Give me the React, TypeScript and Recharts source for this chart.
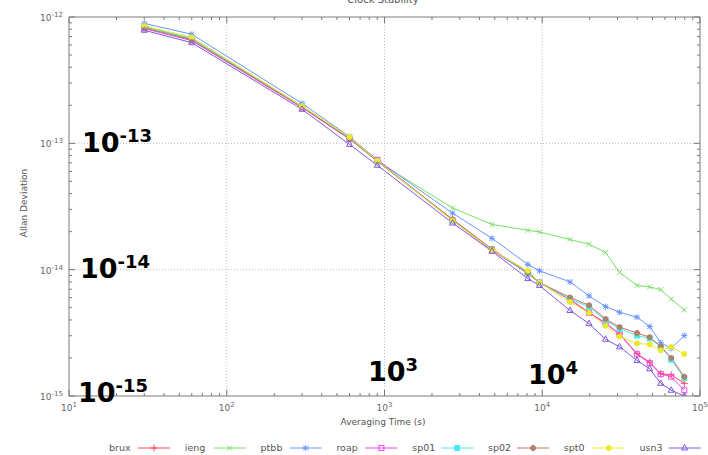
import { LineChart, Line, XAxis, YAxis, ReferenceLine } from 'recharts';

// averaging times (s)
const taus = [30, 60, 300, 600, 900, 2700, 4800, 8100, 9600, 15000, 19800, 25200, 30900, 39900, 48000, 56400, 65700, 79500];

const brux = [8.3e-13, 6.7e-13, 1.95e-13, 1.1e-13, 7.3e-14, 2.5e-14, 1.44e-14, 9.3e-15, 7.9e-15, 5.8e-15, 4.6e-15, 3.78e-15, 3.1e-15, 2.16e-15, 1.85e-15, 1.5e-15, 1.47e-15, 1.26e-15];
const ieng = [8.4e-13, 6.8e-13, 1.97e-13, 1.11e-13, 7.2e-14, 3.08e-14, 2.28e-14, 2.05e-14, 1.99e-14, 1.73e-14, 1.59e-14, 1.37e-14, 9.5e-15, 7.5e-15, 7.3e-15, 6.95e-15, 5.85e-15, 4.8e-15];
const ptbb = [8.9e-13, 7.3e-13, 2.07e-13, 1.13e-13, 7.4e-14, 2.8e-14, 1.77e-14, 1.1e-14, 9.8e-15, 8.0e-15, 6.2e-15, 5.1e-15, 4.6e-15, 4.2e-15, 3.55e-15, 2.64e-15, 2.38e-15, 3.01e-15];
const roap = [8.1e-13, 6.5e-13, 1.92e-13, 1.08e-13, 7.4e-14, 2.45e-14, 1.42e-14, 9.4e-15, 7.9e-15, 5.8e-15, 4.55e-15, 3.75e-15, 3.08e-15, 2.14e-15, 1.82e-15, 1.49e-15, 1.42e-15, 1.11e-15];
const sp01 = [8.3e-13, 6.7e-13, 1.95e-13, 1.1e-13, 7.2e-14, 2.45e-14, 1.45e-14, 9.3e-15, 7.9e-15, 5.85e-15, 5.09e-15, 3.98e-15, 3.41e-15, 3.01e-15, 2.86e-15, 2.46e-15, 1.94e-15, 1.39e-15];
const sp02 = [8.2e-13, 6.6e-13, 1.94e-13, 1.09e-13, 7.2e-14, 2.5e-14, 1.46e-14, 9.5e-15, 7.9e-15, 6.03e-15, 5.22e-15, 4.07e-15, 3.51e-15, 3.15e-15, 2.92e-15, 2.48e-15, 2.0e-15, 1.42e-15];
const spt0 = [8.5e-13, 6.9e-13, 1.97e-13, 1.12e-13, 7.3e-14, 2.45e-14, 1.43e-14, 9.8e-15, 7.9e-15, 5.55e-15, 4.55e-15, 3.6e-15, 2.95e-15, 2.61e-15, 2.56e-15, 2.3e-15, 2.45e-15, 2.15e-15];
const usn3 = [7.85e-13, 6.26e-13, 1.86e-13, 9.8e-14, 6.7e-14, 2.34e-14, 1.4e-14, 8.5e-15, 7.5e-15, 4.75e-15, 3.74e-15, 2.81e-15, 2.45e-15, 1.91e-15, 1.64e-15, 1.26e-15, 1.11e-15, 1.0e-15];

const seriesNames = ['brux', 'ieng', 'ptbb', 'roap', 'sp01', 'sp02', 'spt0', 'usn3'];
const seriesValues = [brux, ieng, ptbb, roap, sp01, sp02, spt0, usn3];
const seriesColors = ['#ff4656', '#78de66', '#6a95ff', '#ee48ee', '#4aeaee', '#c87258', '#eaea2a', '#8058e0'];
const seriesMarkers = ['plus', 'cross', 'star', 'square', 'squareFilled', 'circle', 'circleFilled', 'triangle'];

const xDecades = [10, 100, 1000, 10000, 100000];
const xDecadeLabels = ['1', '2', '3', '4', '5'];
const yDecades = [1e-15, 1e-14, 1e-13, 1e-12];
const yDecadeLabels = ['-15', '-14', '-13', '-12'];
const minorSteps = [2, 3, 4, 5, 6, 7, 8, 9];

const withMinor = (decades: number[]) =>
  decades.flatMap((d, i) => (i < decades.length - 1 ? [d, ...minorSteps.map((m) => m * d)] : [d]));
const xTicks = withMinor(xDecades);
const yTicks = withMinor(yDecades);

const data = taus.map((t, i) => {
  const row: any = { tau: t };
  seriesNames.forEach((n, k) => (row[n] = seriesValues[k][i]));
  return row;
});

const FONT = '"DejaVu Sans", sans-serif';
const AXIS = '#7a7a7a';
const GRID = '#bdbdbd';

const decadeIndex = (list: number[], v: number) =>
  list.findIndex((d) => Math.abs(Math.log10(d) - Math.log10(v)) < 1e-6);

const Marker = ({ shape, x, y, color }: { shape: string; x: number; y: number; color: string }) => {
  const s = 2.5;
  switch (shape) {
    case 'plus':
      return <path d={`M${x - s - 1},${y}H${x + s + 1}M${x},${y - s - 1}V${y + s + 1}`} stroke={color} strokeWidth={1} />;
    case 'cross':
      return <path d={`M${x - s},${y - s}L${x + s},${y + s}M${x - s},${y + s}L${x + s},${y - s}`} stroke={color} strokeWidth={1} />;
    case 'star':
      return <path d={`M${x - s},${y - s}L${x + s},${y + s}M${x - s},${y + s}L${x + s},${y - s}M${x - s - 0.5},${y}H${x + s + 0.5}M${x},${y - s - 0.5}V${y + s + 0.5}`} stroke={color} strokeWidth={1} />;
    case 'square':
      return <rect x={x - s} y={y - s} width={2 * s} height={2 * s} fill="none" stroke={color} strokeWidth={1} />;
    case 'squareFilled':
      return <rect x={x - s} y={y - s} width={2 * s} height={2 * s} fill={color} stroke={color} strokeWidth={1} />;
    case 'circle':
      return <circle cx={x} cy={y} r={s} fill="#9a8a7a" stroke={color} strokeWidth={1} />;
    case 'circleFilled':
      return <circle cx={x} cy={y} r={s} fill={color} stroke={color} strokeWidth={1} />;
    default:
      return <path d={`M${x},${y - s - 1}L${x + s + 0.5},${y + s - 0.5}L${x - s - 0.5},${y + s - 0.5}Z`} fill="none" stroke={color} strokeWidth={1} />;
  }
};

const XTick = (p: any) => {
  const { x, y, payload, side } = p;
  const i = decadeIndex(xDecades, payload.value);
  const len = i >= 0 ? 6 : 3;
  const dir = side === 'bottom' ? -1 : 1;
  return (
    <g>
      <line x1={x} y1={y} x2={x} y2={y + dir * len} stroke={AXIS} strokeWidth={1} />
      {side === 'bottom' && i >= 0 && (
        <text x={x} y={y + 15} textAnchor="middle" fontSize={9} fill="#666" fontFamily={FONT}>
          <tspan>10</tspan>
          <tspan dy={-4} fontSize={7}>{xDecadeLabels[i]}</tspan>
        </text>
      )}
    </g>
  );
};

const YTick = (p: any) => {
  const { x, y, payload, side } = p;
  const i = decadeIndex(yDecades, payload.value);
  const len = i >= 0 ? 6 : 3;
  const dir = side === 'left' ? 1 : -1;
  return (
    <g>
      <line x1={x} y1={y} x2={x + dir * len} y2={y} stroke={AXIS} strokeWidth={1} />
      {side === 'left' && i >= 0 && (
        <text x={x - 6} y={y + 4} textAnchor="end" fontSize={9} fill="#666" fontFamily={FONT}>
          <tspan>10</tspan>
          <tspan dy={-4} fontSize={7}>{yDecadeLabels[i]}</tspan>
        </text>
      )}
    </g>
  );
};

const bigLabels = [
  { x: 82, y: 152, exp: '-13' },
  { x: 80, y: 278, exp: '-14' },
  { x: 78, y: 402, exp: '-15' },
  { x: 368, y: 381, exp: '3' },
  { x: 528, y: 384, exp: '4' },
];

export default function App() {
  return (
    <div style={{ position: 'absolute', left: 0, top: 0, width: 708, height: 455, background: '#fff' }}>
      <LineChart width={708} height={455} data={data} margin={{ top: 16, right: 7, left: 9, bottom: 29 }}>
        <XAxis
          dataKey="tau"
          type="number"
          scale="log"
          domain={[10, 100000]}
          allowDataOverflow
          ticks={xTicks}
          interval={0}
          height={30}
          tickSize={0}
          tickMargin={0}
          axisLine={{ stroke: AXIS }}
          tickLine={false}
          tick={(p: any) => <XTick {...p} side="bottom" />}
        />
        <XAxis
          xAxisId="top"
          orientation="top"
          dataKey="tau"
          type="number"
          scale="log"
          domain={[10, 100000]}
          allowDataOverflow
          ticks={xTicks}
          interval={0}
          height={1}
          tickSize={0}
          tickMargin={0}
          axisLine={{ stroke: AXIS }}
          tickLine={false}
          tick={(p: any) => <XTick {...p} side="top" />}
        />
        <YAxis
          type="number"
          scale="log"
          domain={[1e-15, 1e-12]}
          allowDataOverflow
          ticks={yTicks}
          interval={0}
          width={60}
          tickSize={0}
          tickMargin={0}
          axisLine={{ stroke: AXIS }}
          tickLine={false}
          tick={(p: any) => <YTick {...p} side="left" />}
        />
        <YAxis
          yAxisId="right"
          orientation="right"
          type="number"
          scale="log"
          domain={[1e-15, 1e-12]}
          allowDataOverflow
          ticks={yTicks}
          interval={0}
          width={1}
          tickSize={0}
          tickMargin={0}
          axisLine={{ stroke: AXIS }}
          tickLine={false}
          tick={(p: any) => <YTick {...p} side="right" />}
        />
        {xDecades.slice(1, -1).map((v) => (
          <ReferenceLine key={`gx${v}`} x={v} stroke={GRID} strokeDasharray="1 2" />
        ))}
        {yDecades.slice(1, -1).map((v) => (
          <ReferenceLine key={`gy${v}`} y={v} stroke={GRID} strokeDasharray="1 2" />
        ))}
        {seriesNames.map((n, k) => (
          <Line
            key={n}
            dataKey={n}
            name={n}
            type="linear"
            stroke={seriesColors[k]}
            strokeWidth={1}
            isAnimationActive={false}
            dot={(p: any) => (
              <Marker key={`${n}-${p.index}`} shape={seriesMarkers[k]} x={p.cx} y={p.cy} color={seriesColors[k]} />
            )}
            activeDot={false}
          />
        ))}
      </LineChart>

      <svg width={708} height={455} style={{ position: 'absolute', left: 0, top: 0, pointerEvents: 'none' }}>
        <text x={383} y={3} textAnchor="middle" fontSize={10} fill="#555" fontFamily={FONT}>Clock Stability</text>
        <text x={383} y={425} textAnchor="middle" fontSize={9} fill="#555" fontFamily={FONT}>Averaging Time (s)</text>
        <text x={27} y={203} textAnchor="middle" fontSize={9} fill="#555" fontFamily={FONT} transform="rotate(-90 27 203)">
          Allan Deviation
        </text>
        {bigLabels.map((b) => (
          <text key={b.exp} x={b.x} y={b.y} fontSize={27} fontWeight="bold" fill="#000" fontFamily={FONT}>
            <tspan>10</tspan>
            <tspan dy={-10} fontSize={18}>{b.exp}</tspan>
          </text>
        ))}
        {seriesNames.map((n, k) => {
          const tx = 109 + k * 75.8;
          const cx = tx + 45;
          return (
            <g key={n}>
              <text x={tx} y={451} fontSize={9.5} fill="#555" fontFamily={FONT}>{n}</text>
              <line x1={tx + 29} y1={448} x2={tx + 61} y2={448} stroke={seriesColors[k]} strokeWidth={1} />
              <Marker shape={seriesMarkers[k]} x={cx} y={448} color={seriesColors[k]} />
            </g>
          );
        })}
      </svg>
    </div>
  );
}
